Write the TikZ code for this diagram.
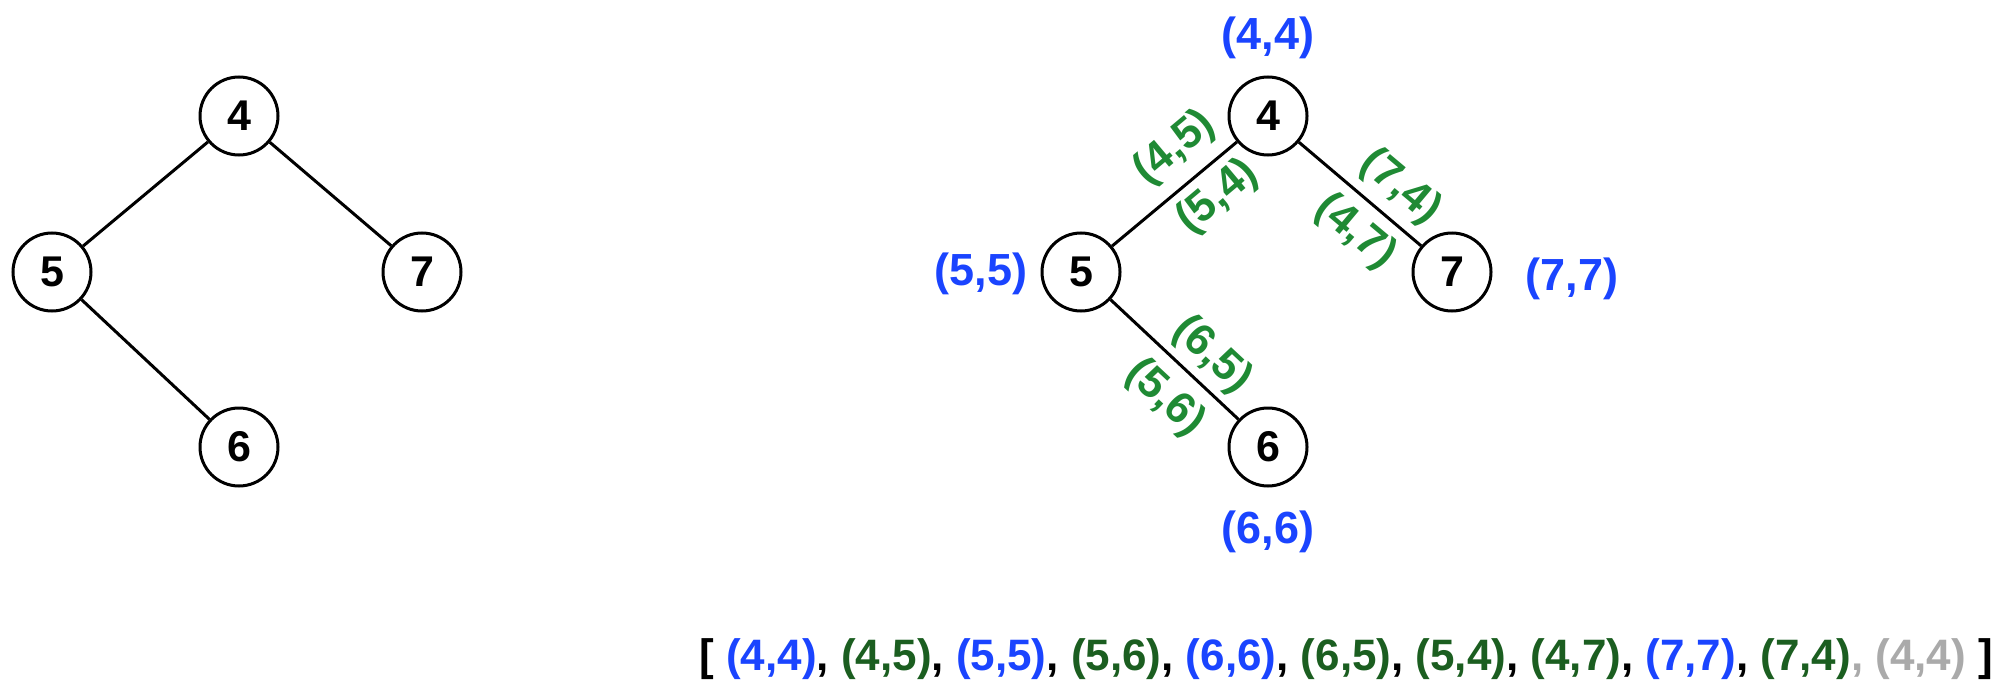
\documentclass[tikz,border=0pt]{standalone}
\usepackage{fontspec}
\setmainfont{Liberation Sans}
\definecolor{lblue}{HTML}{1A44FF}
\definecolor{egreen}{HTML}{1F8A34}
\definecolor{dgreen}{HTML}{1B5E20}
\definecolor{lgray}{HTML}{AAAAAA}
\begin{document}
\begin{tikzpicture}[x=0.5pt,y=-0.5pt,
  tnode/.style={circle,draw,line width=1.5pt,minimum size=39pt,inner sep=0pt,
    font=\fontsize{21.5}{25}\selectfont\bfseries},
  edge/.style={line width=1.5pt},
  vlab/.style={text=lblue,inner sep=0pt,font=\fontsize{22.5}{26}\selectfont\bfseries},
  elab/.style={text=egreen,inner sep=0pt,font=\fontsize{22}{26}\selectfont\bfseries}]
\useasboundingbox (0,0) rectangle (2002,690);

% left tree
\node[tnode] (a4) at (239,116) {4};
\node[tnode] (a5) at (52,272) {5};
\node[tnode] (a7) at (422,272) {7};
\node[tnode] (a6) at (239,447) {6};
\draw[edge] (a4) -- (a5);
\draw[edge] (a4) -- (a7);
\draw[edge] (a5) -- (a6);

% right tree
\node[tnode] (b4) at (1268,116) {4};
\node[tnode] (b5) at (1081,272) {5};
\node[tnode] (b7) at (1452,272) {7};
\node[tnode] (b6) at (1268,447) {6};
\draw[edge] (b4) -- (b5);
\draw[edge] (b4) -- (b7);
\draw[edge] (b5) -- (b6);

% vertex labels
\node[vlab] (l44) at (1268,38) {(4,4)};
\node[vlab] (l55) at (981,274) {(5,5)};
\node[vlab] (l77) at (1572,279) {(7,7)};
\node[vlab] (l66) at (1268,532) {(6,6)};

% edge labels
\node[elab,rotate=40] (l45) at (1175,148) {(4,5)};
\node[elab,rotate=40] (l54) at (1218,197) {(5,4)};
\node[elab,rotate=-40] (l74) at (1400,187) {(7,4)};
\node[elab,rotate=-40] (l47) at (1355,232) {(4,7)};
\node[elab,rotate=-43] (l65) at (1212,355) {(6,5)};
\node[elab,rotate=-43] (l56) at (1165,398) {(5,6)};

% list
\node[anchor=base west,inner sep=0pt,font=\fontsize{22}{26}\selectfont\bfseries] (list) at (699,670)
 {[ \textcolor{lblue}{(4,4)}, \textcolor{dgreen}{(4,5)}, \textcolor{lblue}{(5,5)}, \textcolor{dgreen}{(5,6)}, \textcolor{lblue}{(6,6)}, \textcolor{dgreen}{(6,5)}, \textcolor{dgreen}{(5,4)}, \textcolor{dgreen}{(4,7)}, \textcolor{lblue}{(7,7)}, \textcolor{dgreen}{(7,4)}\textcolor{lgray}{, (4,4)} ]};
\end{tikzpicture}
\end{document}
